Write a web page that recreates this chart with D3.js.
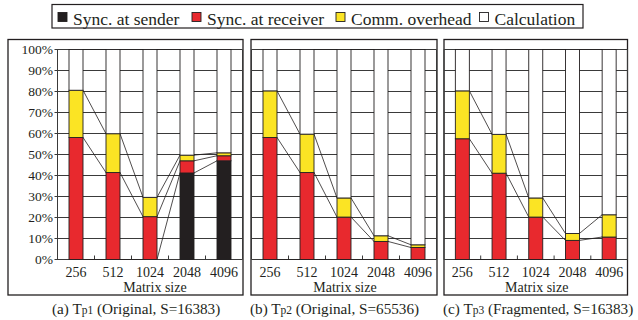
<!DOCTYPE html>
<meta charset="utf-8">
<head>
    <title>Time breakdown by matrix size</title>
    <script type="text/javascript" src="https://cdn.jsdelivr.net/npm/d3@7"></script>
    <style>
        body { margin: 0; background: #fff; }
        svg text { font-family: "Liberation Serif", Tinos, "DejaVu Serif", serif; fill: #231f20; }
    </style>
</head>
<body>
<div id="chart"></div>
<script>

    // categories and series
    var sizes = ["256", "512", "1024", "2048", "4096"];
    var seriesNames = ["Sync. at sender", "Sync. at receiver", "Comm. overhead", "Calculation"];
    var seriesColors = ["#231f20", "#e8292e", "#fbe424", "#ffffff"];
    var yTicks = [0, 10, 20, 30, 40, 50, 60, 70, 80, 90, 100];

    // (a) Tp1, percent of time
    var senderA   = [0, 0, 0, 41.2, 47.0];
    var receiverA = [58.1, 41.4, 20.4, 5.8, 2.4];
    var commA     = [22.5, 18.5, 9.2, 2.7, 1.4];
    var calcA     = [19.4, 40.1, 70.4, 50.3, 49.2];

    // (b) Tp2
    var senderB   = [0, 0, 0, 0, 0];
    var receiverB = [58.1, 41.4, 20.2, 8.6, 5.7];
    var commB     = [22.2, 18.3, 9.1, 2.7, 1.3];
    var calcB     = [19.7, 40.3, 70.7, 88.7, 93.0];

    // (c) Tp3
    var senderC   = [0, 0, 0, 0, 0];
    var receiverC = [57.5, 41.1, 20.2, 9.1, 10.7];
    var commC     = [22.8, 18.5, 9.1, 3.3, 10.6];
    var calcC     = [19.7, 40.4, 70.7, 87.6, 78.7];

    var captionLead = ["(a) T", "(b) T", "(c) T"];
    var captionSub  = ["p1", "p2", "p3"];
    var captionTail = [" (Original, S=16383)", " (Original, S=65536)", " (Fragmented, S=16383)"];

    var width = 638, height = 320;
    var serif = '"Liberation Serif", Tinos, "DejaVu Serif", serif';

    var svg = d3.select("#chart").append("svg")
        .attr("width", width)
        .attr("height", height)
        .attr("font-family", serif);

    // layout of the three panels
    var panels = [
        {sender: senderA, receiver: receiverA, comm: commA, calc: calcA, plot: [57.5, 242.5], box: [8, 243], yLabels: true, capX: 52},
        {sender: senderB, receiver: receiverB, comm: commB, calc: calcB, plot: [251.5, 436.5], box: [251, 437], yLabels: false, capX: 250},
        {sender: senderC, receiver: receiverC, comm: commC, calc: calcC, plot: [444, 627.5], box: [444, 627.5], yLabels: false, capX: 443}
    ];

    var y = d3.scaleLinear().domain([0, 100]).range([259.5, 49.5]);
    var stack = d3.stack().keys(seriesNames);

    panels.forEach(function(p, pi) {
        var g = svg.append("g");

        var rows = sizes.map(function(s, i) {
            var r = {size: s};
            r[seriesNames[0]] = p.sender[i];
            r[seriesNames[1]] = p.receiver[i];
            r[seriesNames[2]] = p.comm[i];
            r[seriesNames[3]] = p.calc[i];
            return r;
        });
        var layers = stack(rows);

        var x = d3.scaleBand().domain(sizes).range(p.plot).padding(0);
        var barW = 14;

        // panel frame
        g.append("rect")
            .attr("x", p.box[0]).attr("y", 39.5)
            .attr("width", p.box[1] - p.box[0]).attr("height", 255.5)
            .attr("fill", "none").attr("stroke", "#231f20").attr("stroke-width", 1.3);

        // horizontal grid
        g.selectAll(".grid").data(yTicks).enter().append("line")
            .attr("x1", p.yLabels ? p.plot[0] - 3 : p.plot[0])
            .attr("x2", p.plot[1])
            .attr("y1", d => y(d)).attr("y2", d => y(d))
            .attr("stroke", "#3a3a3a").attr("stroke-width", 1);

        // plot sides
        [p.plot[0], p.plot[1]].forEach(function(xx) {
            g.append("line")
                .attr("x1", xx).attr("x2", xx)
                .attr("y1", y(0)).attr("y2", y(100))
                .attr("stroke", "#3a3a3a").attr("stroke-width", 1);
        });

        // category ticks between bars
        g.selectAll(".tick").data(sizes.slice(1)).enter().append("line")
            .attr("x1", d => x(d)).attr("x2", d => x(d))
            .attr("y1", y(0)).attr("y2", y(0) - 4)
            .attr("stroke", "#3a3a3a").attr("stroke-width", 1);

        // series lines between bars
        layers.forEach(function(layer) {
            for (var i = 0; i < layer.length - 1; i++) {
                var a = layer[i], b = layer[i + 1];
                g.append("line")
                    .attr("x1", x(a.data.size) + x.bandwidth() / 2 + barW / 2)
                    .attr("x2", x(b.data.size) + x.bandwidth() / 2 - barW / 2)
                    .attr("y1", y(a[1])).attr("y2", y(b[1]))
                    .attr("stroke", "#231f20").attr("stroke-width", 0.8);
            }
        });

        // stacked bars
        layers.forEach(function(layer, li) {
            g.selectAll(".bar" + li).data(layer).enter().append("rect")
                .filter(d => d[1] - d[0] > 0)
                .attr("x", d => x(d.data.size) + x.bandwidth() / 2 - barW / 2)
                .attr("width", barW)
                .attr("y", d => y(d[1]))
                .attr("height", d => y(d[0]) - y(d[1]))
                .attr("fill", seriesColors[li])
                .attr("stroke", "#231f20").attr("stroke-width", 0.9);
        });

        // y labels (first panel only)
        if (p.yLabels) {
            g.selectAll(".ylab").data(yTicks).enter().append("text")
                .attr("x", p.plot[0] - 4.5)
                .attr("y", d => y(d))
                .attr("dy", "0.35em")
                .attr("text-anchor", "end")
                .style("font-size", "13.5px")
                .text(d => d + "%");
        }

        // x labels
        g.selectAll(".xlab").data(sizes).enter().append("text")
            .attr("x", d => x(d) + x.bandwidth() / 2)
            .attr("y", 276.5)
            .attr("text-anchor", "middle")
            .style("font-size", "14px")
            .text(d => d);

        g.append("text")
            .attr("x", pi === 0 ? 155 : (p.plot[0] + p.plot[1]) / 2 + 1)
            .attr("y", 291.5)
            .attr("text-anchor", "middle")
            .style("font-size", "14px")
            .text("Matrix size");

        // caption
        var cap = svg.append("text")
            .attr("x", p.capX).attr("y", 314)
            .style("font-size", "15.2px");
        cap.append("tspan").text(captionLead[pi]);
        cap.append("tspan").style("font-size", "11.5px").text(captionSub[pi]);
        cap.append("tspan").text(captionTail[pi]);
    });

    // legend
    var legendX = [58, 192, 336, 479.5];
    var legend = svg.append("g");
    legend.append("rect")
        .attr("x", 52).attr("y", 4.5)
        .attr("width", 531).attr("height", 23.5)
        .attr("fill", "#fff").attr("stroke", "#231f20").attr("stroke-width", 1.2);

    seriesNames.forEach(function(name, i) {
        legend.append("rect")
            .attr("x", legendX[i]).attr("y", 12.5)
            .attr("width", 9).attr("height", 9)
            .attr("fill", seriesColors[i])
            .attr("stroke", "#231f20").attr("stroke-width", 0.9);
        legend.append("text")
            .attr("x", legendX[i] + 15)
            .attr("y", 25)
            .style("font-size", "17.5px")
            .text(name);
    });

</script>
</body>
</html>
